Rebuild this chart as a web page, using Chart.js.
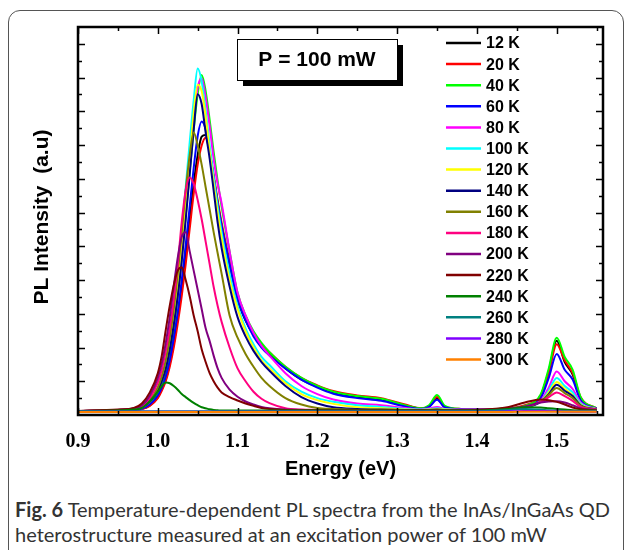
<!DOCTYPE html>
<html>
<head>
<meta charset="utf-8">
<script src="https://cdn.jsdelivr.net/npm/chart.js@4"></script>
<style>
  html, body { margin: 0; padding: 0; background: #fff; width: 630px; height: 550px; overflow: hidden; }
  #frame { position: absolute; left: 8px; top: 10px; width: 614px; height: 580px; border: 1.5px solid #555; border-radius: 12px; }
  #box { position: absolute; left: 0; top: 0; width: 630px; height: 490px; }
  #caption { position: absolute; left: 15px; top: 497px; font-family: Lato; font-size: 20px; line-height: 25px; color: #333; white-space: nowrap; }
</style>
</head>
<body>
<div id="frame"></div>
<div id="box"><canvas id="myChart"></canvas></div>
<div id="caption"><b>Fig. 6</b> Temperature-dependent PL spectra from the InAs/InGaAs QD<br>heterostructure measured at an excitation power of 100 mW</div>
<script>
"use strict";
// photon energy (eV), shared by every spectrum
const energy = [0.90, 0.95, 0.97, 0.98, 0.99, 1.00, 1.005, 1.01, 1.015, 1.02, 1.025, 1.03, 1.035, 1.04, 1.045, 1.05, 1.055, 1.06, 1.065, 1.07, 1.075, 1.08, 1.09,
  1.10, 1.11, 1.12, 1.13, 1.14, 1.16, 1.18, 1.20, 1.22, 1.25, 1.28, 1.31,
  1.33, 1.34, 1.35, 1.36, 1.38, 1.41, 1.44, 1.46, 1.48, 1.49, 1.50, 1.51, 1.52, 1.53, 1.55];

const temps = ["12 K", "20 K", "40 K", "60 K", "80 K", "100 K", "120 K", "140 K", "160 K", "180 K", "200 K", "220 K", "240 K", "260 K", "280 K", "300 K"];
const colors = ["#000000", "#ff0000", "#00ff00", "#0000ff", "#ff00ff", "#00ffff", "#ffff00", "#000080", "#808000", "#ff0080", "#800080", "#800000", "#008000", "#008080", "#8000ff", "#ff8000"];

// PL intensity (a.u.)
const pl12 = [0.12,0.13,0.15,0.18,0.28,0.52,0.76,1.05,1.52,2.1,2.86,3.7,4.75,5.8,6.85,7.7,8.25,8.3,7.8,7.05,6.3,5.6,4.45,
  3.42,2.8,2.38,2.05,1.8,1.38,1.05,0.84,0.67,0.54,0.46,0.29,
  0.19,0.24,0.48,0.23,0.17,0.17,0.19,0.24,0.58,1.3,2.2,1.57,1.2,0.48,0.19];
const pl20 = [0.12,0.13,0.15,0.18,0.27,0.5,0.72,1.0,1.43,2.0,2.71,3.52,4.47,5.52,6.56,7.42,7.99,8.22,7.8,7.13,6.37,5.7,4.57,
  3.52,2.9,2.43,2.1,1.86,1.43,1.1,0.88,0.71,0.58,0.5,0.31,
  0.2,0.27,0.53,0.25,0.18,0.17,0.2,0.29,0.58,1.24,2.1,1.62,1.24,0.53,0.2];
const pl40 = [0.12,0.13,0.15,0.19,0.34,0.62,0.91,1.29,1.81,2.57,3.52,4.66,5.9,7.23,8.46,9.51,10.08,9.6,8.75,7.8,6.94,6.18,4.85,
  3.62,2.95,2.48,2.14,1.86,1.43,1.1,0.86,0.69,0.56,0.48,0.29,
  0.2,0.29,0.59,0.27,0.18,0.17,0.2,0.27,0.62,1.38,2.29,1.72,1.34,0.53,0.2];
const pl60 = [0.12,0.13,0.15,0.19,0.31,0.58,0.81,1.15,1.62,2.29,3.05,4.0,5.04,6.18,7.32,8.27,8.7,8.46,7.8,7.04,6.28,5.61,4.47,
  3.43,2.81,2.33,2.0,1.76,1.38,1.05,0.81,0.63,0.5,0.42,0.25,
  0.18,0.24,0.45,0.22,0.17,0.16,0.18,0.23,0.5,1.1,1.81,1.34,1.05,0.43,0.19];
const pl80 = [0.12,0.15,0.18,0.23,0.4,0.77,1.05,1.48,2.1,2.86,3.8,4.95,6.18,7.51,8.75,9.7,9.98,9.41,8.56,7.6,6.85,6.28,4.85,
  3.62,2.95,2.43,2.05,1.76,1.24,0.86,0.62,0.46,0.34,0.29,0.21,
  0.17,0.19,0.24,0.18,0.16,0.16,0.18,0.23,0.43,0.81,1.29,1.0,0.77,0.37,0.18];
const pl100 = [0.12,0.15,0.18,0.24,0.43,0.81,1.15,1.62,2.29,3.14,4.19,5.42,6.75,8.08,9.32,10.27,9.89,9.03,7.99,7.04,6.18,5.42,4.19,
  3.24,2.57,2.1,1.72,1.48,1.0,0.69,0.5,0.39,0.29,0.24,0.18,
  0.16,0.17,0.2,0.17,0.15,0.15,0.17,0.22,0.4,0.72,1.1,0.86,0.67,0.34,0.17];
const pl120 = [0.12,0.15,0.18,0.23,0.4,0.77,1.05,1.48,2.1,2.86,3.8,4.95,6.28,7.6,8.94,9.79,9.6,8.84,7.8,6.85,5.99,5.23,4.0,
  3.14,2.48,2.0,1.62,1.38,0.94,0.62,0.44,0.33,0.23,0.2,0.16,
  0.15,0.16,0.18,0.16,0.15,0.15,0.17,0.22,0.4,0.67,0.98,0.78,0.59,0.31,0.17];
const pl140 = [0.12,0.15,0.18,0.23,0.39,0.72,1.0,1.38,1.95,2.67,3.52,4.57,5.8,7.13,8.46,9.51,9.22,8.37,7.6,6.66,5.71,4.95,3.81,
  2.9,2.33,1.9,1.57,1.31,0.86,0.53,0.34,0.23,0.18,0.16,0.15,
  0.14,0.15,0.16,0.15,0.15,0.15,0.17,0.22,0.39,0.62,0.9,0.72,0.56,0.29,0.17];
const pl160 = [0.12,0.15,0.18,0.24,0.43,0.81,1.15,1.62,2.29,3.14,4.19,5.42,6.66,7.7,8.37,7.99,7.42,6.75,6.09,5.42,4.8,4.19,2.95,
  2.29,1.81,1.43,1.1,0.86,0.5,0.31,0.21,0.18,0.15,0.14,0.14,
  0.14,0.14,0.15,0.14,0.14,0.15,0.17,0.24,0.4,0.59,0.8,0.65,0.5,0.27,0.16];
const pl180 = [0.12,0.15,0.19,0.27,0.5,0.96,1.34,1.9,2.57,3.43,4.47,5.71,6.66,7.04,6.85,6.37,5.8,5.14,4.47,3.8,3.24,2.76,2.0,
  1.38,1.0,0.69,0.48,0.35,0.2,0.16,0.15,0.14,0.14,0.14,0.14,
  0.14,0.14,0.14,0.14,0.14,0.15,0.18,0.24,0.39,0.53,0.67,0.56,0.42,0.24,0.16];
const pl200 = [0.12,0.15,0.2,0.29,0.58,1.1,1.53,2.14,2.9,3.81,4.66,5.28,5.42,4.85,4.28,3.71,3.14,2.57,2.19,1.76,1.38,1.1,0.75,
  0.54,0.4,0.31,0.24,0.2,0.16,0.15,0.14,0.14,0.14,0.14,0.14,
  0.14,0.14,0.14,0.14,0.14,0.15,0.19,0.25,0.37,0.4,0.41,0.37,0.29,0.2,0.15];
const pl220 = [0.12,0.16,0.21,0.34,0.67,1.24,1.76,2.52,3.24,3.85,4.28,4.38,4.0,3.52,2.95,2.48,1.95,1.57,1.24,1.0,0.81,0.67,0.53,
  0.43,0.34,0.27,0.21,0.18,0.15,0.14,0.14,0.14,0.14,0.14,0.14,
  0.14,0.14,0.14,0.14,0.14,0.16,0.24,0.37,0.46,0.44,0.39,0.31,0.22,0.17,0.14];
const pl240 = [0.12,0.13,0.16,0.21,0.41,0.69,0.86,0.96,0.94,0.86,0.75,0.62,0.53,0.44,0.36,0.29,0.23,0.2,0.17,0.15,0.14,0.13,0.13,
  0.13,0.13,0.13,0.13,0.13,0.13,0.13,0.13,0.13,0.13,0.13,0.13,
  0.13,0.13,0.13,0.13,0.13,0.14,0.18,0.23,0.22,0.2,0.18,0.16,0.14,0.13,0.13];
const pl260 = [0.11,0.11,0.11,0.11,0.11,0.11,0.11,0.11,0.11,0.11,0.11,0.11,0.11,0.11,0.11,0.11,0.11,0.11,0.11,0.11,0.11,0.11,0.11,
  0.11,0.11,0.11,0.11,0.11,0.11,0.11,0.11,0.11,0.11,0.11,0.11,
  0.11,0.11,0.11,0.11,0.11,0.12,0.15,0.18,0.16,0.14,0.13,0.12,0.11,0.11,0.11];
const pl280 = [0.1,0.1,0.1,0.1,0.1,0.1,0.1,0.1,0.1,0.1,0.1,0.1,0.1,0.1,0.1,0.1,0.1,0.1,0.1,0.1,0.1,0.1,0.1,
  0.1,0.1,0.1,0.1,0.1,0.1,0.1,0.1,0.1,0.1,0.1,0.1,
  0.1,0.1,0.1,0.1,0.1,0.1,0.11,0.12,0.12,0.11,0.11,0.1,0.1,0.1,0.1];
const pl300 = [0.09,0.09,0.09,0.09,0.09,0.09,0.09,0.09,0.09,0.09,0.09,0.09,0.09,0.09,0.09,0.09,0.09,0.09,0.09,0.09,0.09,0.09,0.09,
  0.09,0.09,0.09,0.09,0.09,0.09,0.09,0.09,0.09,0.09,0.09,0.09,
  0.09,0.09,0.09,0.09,0.09,0.09,0.09,0.1,0.1,0.1,0.1,0.1,0.1,0.1,0.1];

const spectra = [pl12, pl20, pl40, pl60, pl80, pl100, pl120, pl140, pl160, pl180, pl200, pl220, pl240, pl260, pl280, pl300];

// frame, inward ticks on all four sides, legend, power box, y title
const decorations = {
  id: 'decorations',
  afterDatasetsDraw(chart) {
    const { ctx, chartArea: a, scales: { x, y } } = chart;
    ctx.save();
    ctx.strokeStyle = '#000';
    ctx.lineWidth = 1.5;
    ctx.beginPath();
    x.ticks.forEach(t => {
      const r = Math.round(t.value * 100);
      if (r % 5 !== 0) return;
      const len = r % 10 === 0 ? 7 : 4;
      const px = Math.round(x.getPixelForValue(t.value)) + 0.5;
      ctx.moveTo(px, a.bottom); ctx.lineTo(px, a.bottom - len);
      ctx.moveTo(px, a.top); ctx.lineTo(px, a.top + len);
    });
    y.ticks.forEach(t => {
      if (t.value <= y.min || t.value >= y.max) return;
      const len = Math.round(t.value * 10) % 10 === 0 ? 7 : 4;
      const py = Math.round(y.getPixelForValue(t.value)) + 0.5;
      ctx.moveTo(a.left, py); ctx.lineTo(a.left + len, py);
      ctx.moveTo(a.right, py); ctx.lineTo(a.right - len, py);
    });
    ctx.stroke();
    ctx.lineWidth = 2.5;
    ctx.strokeRect(a.left, a.top, a.right - a.left, a.bottom - a.top);

    // legend
    ctx.font = 'bold 16px "Liberation Sans", Arial, sans-serif';
    ctx.textBaseline = 'middle';
    ctx.textAlign = 'left';
    chart.data.datasets.forEach((ds, i) => {
      const ly = a.top + 16 + i * 21.1;
      ctx.strokeStyle = ds.borderColor;
      ctx.lineWidth = 2.5;
      ctx.beginPath();
      ctx.moveTo(a.right - 157, ly);
      ctx.lineTo(a.right - 122, ly);
      ctx.stroke();
      ctx.fillStyle = '#000';
      ctx.fillText(ds.label, a.right - 117, ly + 1);
    });

    // power box with drop shadow
    const bx = a.left + 159, by = a.top + 12, bw = 160, bh = 41;
    ctx.fillStyle = '#000';
    ctx.fillRect(bx + 6, by + 6, bw, bh);
    ctx.fillStyle = '#fff';
    ctx.fillRect(bx, by, bw, bh);
    ctx.strokeStyle = '#000';
    ctx.lineWidth = 1;
    ctx.strokeRect(bx + 0.5, by + 0.5, bw, bh);
    ctx.fillStyle = '#000';
    ctx.font = 'bold 21px "Liberation Sans", Arial, sans-serif';
    ctx.textAlign = 'center';
    ctx.fillText('P = 100 mW', bx + bw / 2, by + bh / 2 + 1);

    // y axis title
    ctx.translate(42, (a.top + a.bottom) / 2 - 4);
    ctx.rotate(-Math.PI / 2);
    ctx.font = 'bold 21px "Liberation Sans", Arial, sans-serif';
    ctx.fillText('PL Intensity  (a.u)', 0, 0);
    ctx.restore();
  }
};

let myChart = document.getElementById("myChart").getContext('2d');
let plChart = new Chart(myChart, {
  type: 'line',
  data: {
    datasets: temps.map((label, i) => ({
      label: label,
      data: energy.map((e, j) => ({ x: e, y: spectra[i][j] })),
      borderColor: colors[i],
      backgroundColor: colors[i],
      borderWidth: 2,
      pointRadius: 0,
      fill: false,
      cubicInterpolationMode: 'monotone',
      order: temps.length - i
    }))
  },
  options: {
    responsive: true,
    maintainAspectRatio: false,
    animation: false,
    events: [],
    layout: { padding: { left: 8, right: 27, top: 27, bottom: 0 } },
    plugins: { legend: { display: false }, tooltip: { enabled: false } },
    scales: {
      x: {
        type: 'linear',
        min: 0.9,
        max: 1.558,
        grid: { display: false },
        border: { display: false },
        ticks: {
          stepSize: 0.05,
          includeBounds: false,
          autoSkip: false,
          maxRotation: 0,
          padding: 7,
          color: '#000',
          font: { family: '"Liberation Serif", "Times New Roman", serif', size: 20, weight: 'bold' },
          callback: v => (Math.round(v * 100) % 10 === 0 ? v.toFixed(1) : '')
        },
        title: {
          display: true,
          text: 'Energy (eV)',
          color: '#000',
          font: { family: '"Liberation Sans", Arial, sans-serif', size: 20, weight: 'bold' },
          padding: { top: 0, bottom: 9 }
        },
        afterFit: scale => { scale.height = 75; }
      },
      y: {
        min: 0,
        max: 11.5,
        grid: { display: false },
        border: { display: false },
        ticks: { display: false, stepSize: 0.5 },
        afterFit: scale => { scale.width = 70; }
      }
    }
  },
  plugins: [decorations]
});
</script>
</body>
</html>
